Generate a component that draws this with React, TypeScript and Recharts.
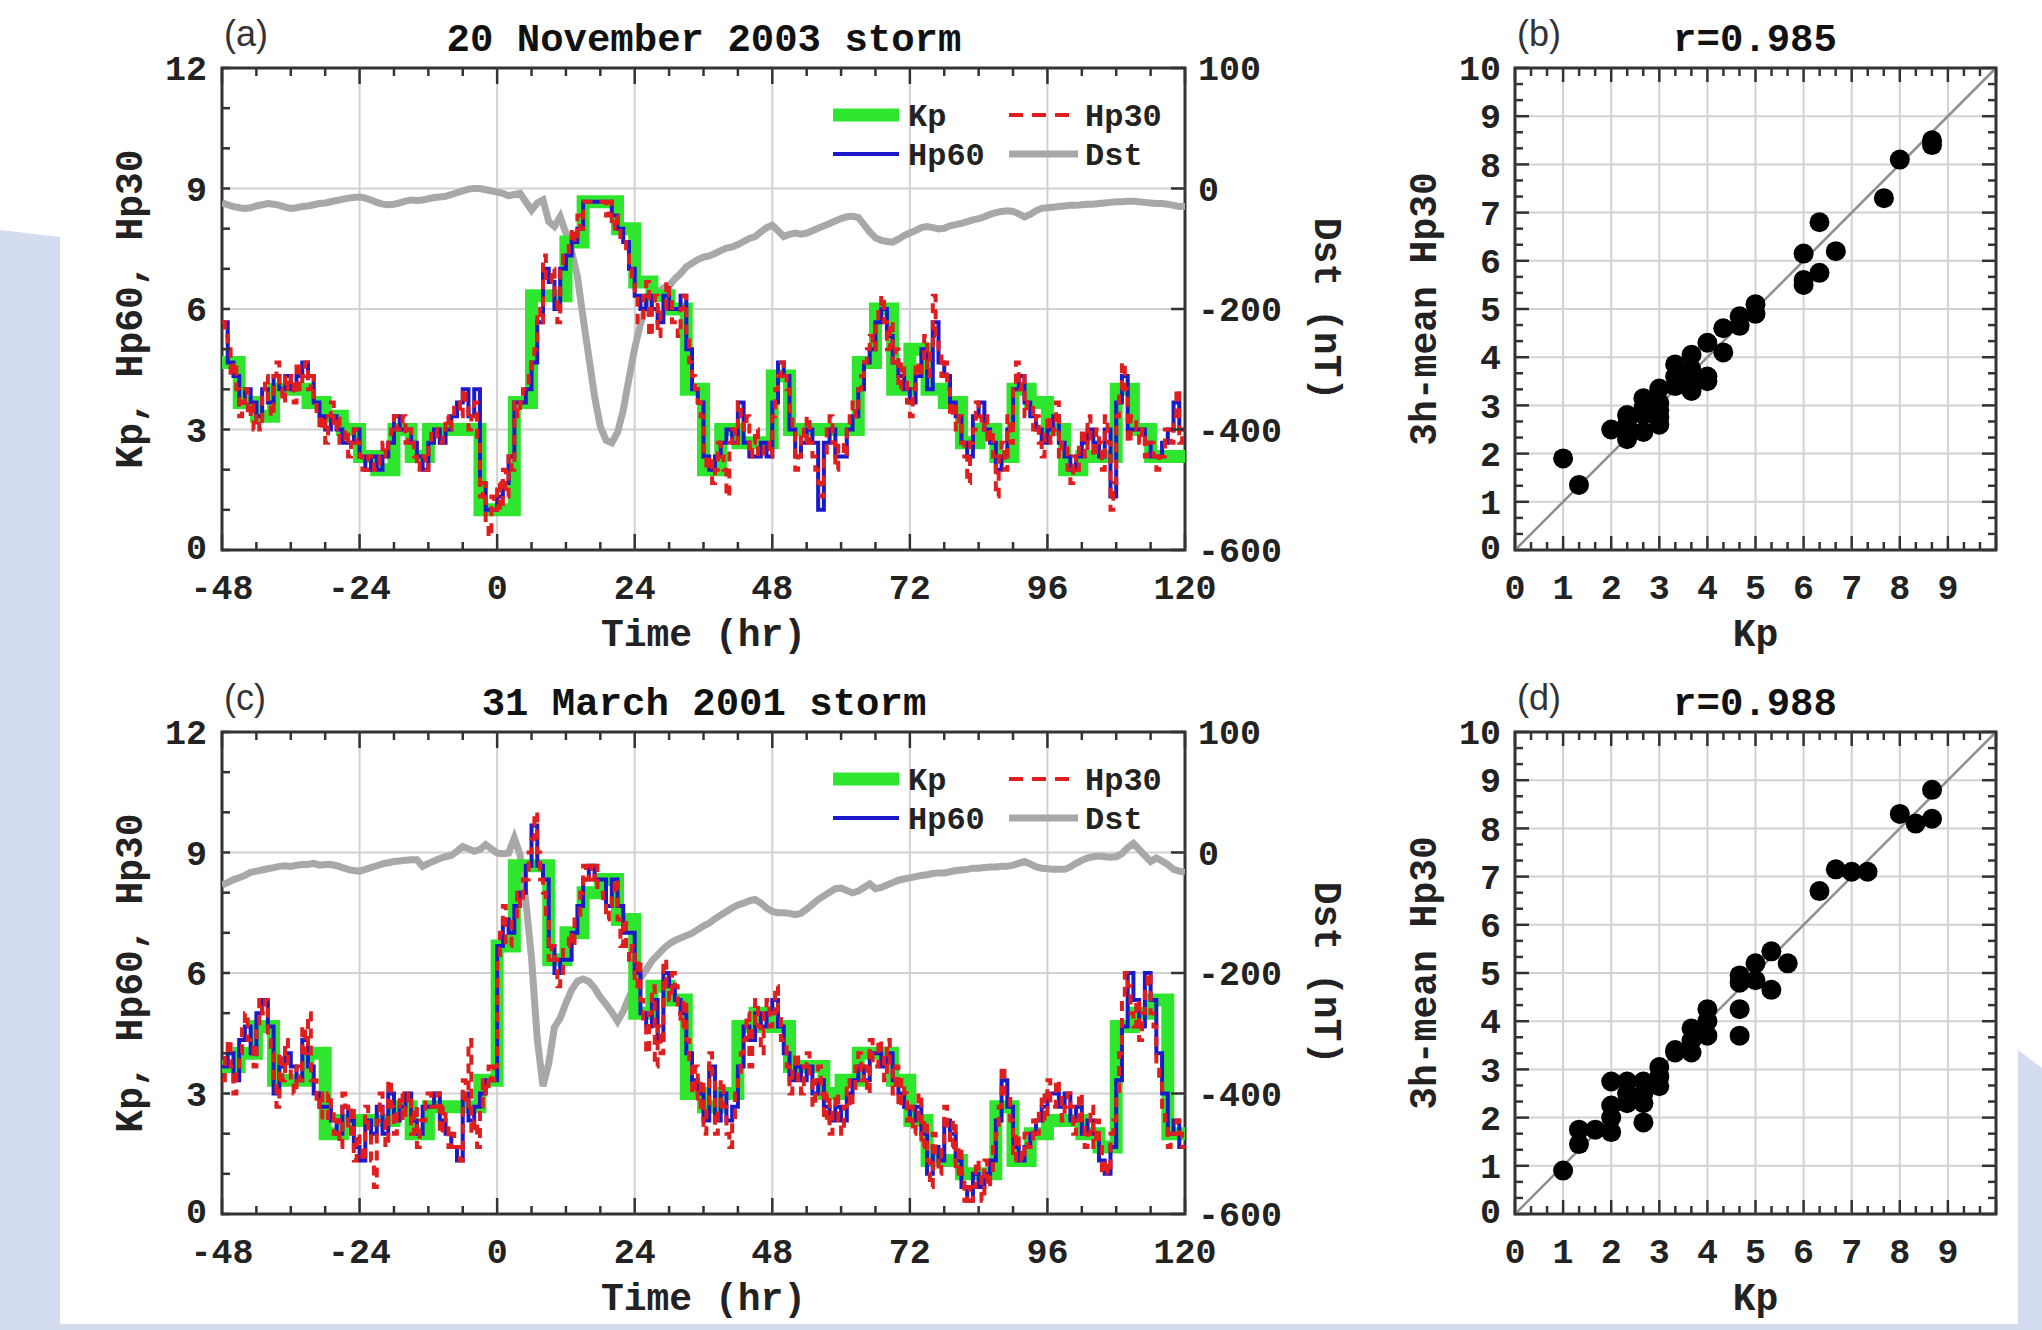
import React from "react";
import {
  ComposedChart,
  ScatterChart,
  Line,
  Scatter,
  XAxis,
  YAxis,
  ReferenceLine,
  ReferenceArea,
  Legend,
} from "recharts";

// ---- panel (a): 20 November 2003 storm, t = -48..120 h ----
const KP_A = [
  4.67, 3.67, 3.33, 4, 4, 3.67, 3.33, 3, 2.33, 2, 3, 2.33, 3, 3, 3, 1, 1, 3.67, 6.33, 6.33, 7.67, 8.67, 8.67, 8,
  6.67, 6.33, 6, 4, 2, 3, 2.67, 2.67, 4.33, 3, 3, 3, 3, 4.67, 6, 4, 5, 4, 3.67, 2.67, 3, 2.33, 4, 3.67, 3, 2,
  2.33, 2.33, 4, 3, 2.33, 2.33,
];
const HP60_A = [
  5.67, 4.67, 4.33, 3.67, 4, 3.67, 3.33, 4, 3.67, 4.33, 4, 4.33, 4, 4.33, 4.67, 4.33, 3.67, 3.33, 3, 3.33, 3,
  2.67, 2.67, 3, 2.33, 2, 2.33, 2, 2.33, 2.67, 3.33, 3, 3, 2.67, 2.33, 2, 2.67, 3, 2.67, 3, 3.33, 3.67, 4, 3.33,
  4, 1.67, 1, 1, 1.33, 1.67, 2.33, 3.67, 3.67, 4, 4.67, 5.67, 7, 6.67, 6, 7, 7.33, 7.67, 8, 8.67, 8.67, 8.67,
  8.67, 8.67, 8.33, 8, 7.67, 7, 6.33, 6, 6.33, 6, 5.67, 6.33, 6, 6, 6.33, 5, 4, 3.67, 2.33, 2, 2.33, 2.67, 3,
  2.67, 3.67, 2.67, 2.33, 2.33, 2.67, 2.33, 3.67, 4.67, 4.33, 3, 2.33, 2.67, 3, 2.67, 1, 2.67, 3, 2.33, 2.33, 3,
  3.33, 4, 4.67, 5, 5.67, 6, 5.33, 4.67, 4.33, 4, 3.67, 4.33, 5, 4, 5.67, 4.67, 4.33, 3.67, 3.33, 2.67, 2.33,
  3.33, 3.67, 3, 2.67, 2, 2.33, 3, 4, 4.33, 3.67, 3.33, 3, 2.67, 3, 3.33, 2.67, 2.33, 2, 2.33, 2.67, 3, 2.67,
  2.33, 3, 1.33, 3.67, 4.33, 3, 3, 3, 2.67, 2.33, 2.33, 2.67, 3, 3.67, 3,
];
const HP30_A = [
  5.67, 5.33, 5, 4.33, 4.67, 4, 3.33, 3.67, 4, 3.33, 3.67, 3,
  3.33, 3, 4, 4.33, 3.67, 3.33, 4.33, 4.67, 4, 3.67, 4.33, 4,
  4.33, 3.67, 4.67, 4, 4.33, 4.67, 4, 4.33, 3.67, 3.33, 3, 3.33,
  2.67, 3.33, 3.67, 3, 3.33, 2.67, 2.67, 3, 2.33, 2.67, 3, 2.67,
  2.33, 2, 2, 2.33, 2.33, 2, 2, 2.33, 2.67, 2.33, 2.67, 3,
  3.33, 3, 3, 3.33, 2.67, 3, 2.67, 2.33, 2, 2.33, 2.33, 2,
  2.67, 3, 3, 2.67, 2.67, 3, 3.33, 3, 3.33, 3.67, 3.67, 3.33,
  4, 3.67, 3, 3.33, 3.67, 2.67, 1.33, 1.67, 0.67, 0.33, 1.33, 1,
  1.67, 1, 2, 1.33, 2.33, 2, 3.67, 3.33, 3.67, 4, 4, 4.33,
  4.67, 5, 6, 5.67, 7.33, 6.67, 6.67, 7, 6.33, 5.67, 7, 7.33,
  7.33, 7.67, 8, 7.67, 8.33, 8, 8.67, 8.67, 8.67, 8.67, 8.67, 8.67,
  8.67, 8.67, 8.33, 8.67, 8, 8.33, 8, 7.67, 7.67, 7.33, 7, 6.67,
  6.33, 5.67, 5.67, 6.33, 6.67, 5.33, 6, 6.33, 5.33, 6, 6, 6.67,
  6.33, 5.67, 5.67, 5.33, 6, 6.33, 5.33, 4.67, 4.33, 4, 3.67, 3.33,
  2.33, 2, 2.33, 1.67, 2, 2.67, 2.33, 2, 1.33, 2.67, 3, 2.67,
  3.67, 3.33, 3, 3.33, 2.33, 2.67, 3, 2.33, 2.33, 2.67, 2.67, 2.33,
  3.33, 4, 4.33, 4.67, 4.33, 4, 3.33, 3, 2, 2.33, 3, 2.67,
  3.33, 2.67, 2.33, 2, 1.67, 1.33, 2.33, 3, 3.33, 2.67, 2, 2.67,
  2.67, 2.33, 3, 3.33, 3.67, 3.33, 4, 4.33, 4.67, 5, 5.33, 5,
  5.67, 6, 6.33, 5.67, 5, 5.67, 4.67, 5, 4, 4.67, 4.33, 3.67,
  3.33, 4, 4.67, 4.33, 4.67, 5.33, 4.33, 5, 6.33, 5.33, 5, 4.33,
  4.67, 4, 3.33, 3.67, 3, 3.33, 2.67, 2.33, 1.67, 2.67, 3, 3.67,
  3.33, 3, 3.33, 2.67, 3, 2.33, 1.33, 2.33, 2.67, 2, 3.33, 2.67,
  4, 4.67, 4, 4.33, 3.33, 3.67, 3.67, 3, 3.33, 2.67, 2.33, 3,
  3.33, 2.67, 3, 3.67, 2.33, 2.67, 2.67, 2, 1.67, 2.33, 2, 2.67,
  3, 2.33, 3.33, 2.67, 2.33, 3, 2.67, 2, 3.33, 2.67, 1, 1.67,
  3.33, 4, 4.67, 4, 2.67, 3.33, 3.33, 3, 2.67, 3, 2.33, 2.67,
  2.67, 2.33, 2, 2.33, 2.33, 3, 3, 2.67, 3.33, 4, 2.67, 3,
];
const DST_A = [
  -24, -27, -30, -32, -33, -32, -29, -27, -25, -26, -28, -31,
  -33, -32, -30, -29, -27, -25, -24, -22, -20, -18, -16, -15,
  -14, -16, -19, -23, -26, -27, -26, -24, -21, -19, -20, -19,
  -17, -15, -14, -13, -10, -7, -4, -1, 0, 0, -2, -4,
  -6, -8, -12, -10, -8, -22, -36, -24, -19, -55, -63, -47,
  -74, -105, -146, -215, -280, -345, -395, -418, -422, -405, -368, -315,
  -265, -225, -195, -182, -172, -165, -162, -150, -141, -130, -124, -118,
  -114, -112, -108, -103, -99, -97, -93, -88, -83, -80, -72, -65,
  -61, -70, -80, -76, -74, -76, -74, -70, -66, -62, -58, -54,
  -50, -47, -46, -48, -60, -72, -82, -86, -88, -89, -84, -78,
  -74, -70, -65, -63, -65, -67, -66, -62, -60, -58, -55, -52,
  -50, -47, -43, -40, -38, -37, -38, -42, -47, -43, -37, -33,
  -32, -31, -30, -29, -28, -28, -27, -26, -26, -25, -24, -23,
  -22, -22, -21, -21, -22, -23, -24, -25, -25, -26, -28, -30,
  -30,
];

// ---- panel (c): 31 March 2001 storm ----
const KP_C = [
  3.67, 4, 4.67, 3.33, 3.33, 4, 2, 2.33, 2.33, 2.33, 2.67, 2, 2.67, 2.67, 2.67, 3.33, 6.67, 8.67, 8.67, 6.33, 7,
  8, 8.33, 7.33, 5, 5.67, 5.33, 3, 2.67, 3, 4.67, 5, 4.67, 3.67, 3.67, 3, 3.33, 4, 4, 3.33, 2.33, 1.33, 1.33, 1,
  1, 2.67, 1.33, 2, 2.33, 2.33, 2, 1.67, 4.67, 5, 5.33, 2,
];
const HP60_C = [
  3.67, 4, 3.33, 4.33, 4.67, 4, 5, 5.33, 4.67, 3, 3.67, 4, 3.67, 3.33, 4.33, 3.67, 3, 2.67, 2.67, 2.33, 2, 2.67,
  2.33, 1.67, 1.33, 2.33, 2, 2.67, 2, 3, 2.33, 2.67, 3, 2.33, 2, 2.67, 2.67, 3, 2.33, 2, 1.67, 1.33, 3, 2.33,
  2.67, 3, 3.33, 3.33, 6.67, 7.33, 7, 7.67, 8, 8.67, 9.67, 8.67, 8.33, 6.67, 6, 6.33, 6.33, 7, 7.67, 8.33, 8.67,
  8.33, 8.33, 7.67, 8.33, 7.67, 7, 7, 6, 5, 4.67, 5.33, 4.33, 6, 5.67, 5.33, 5, 4, 3.33, 3, 2.33, 3.67, 2.33, 3,
  2.33, 2.67, 3.67, 4.67, 4.33, 5, 4.67, 5, 5.33, 4.67, 4, 3.33, 3.67, 3.33, 3.67, 3, 3.33, 2.67, 2.33, 2.67,
  2.33, 3, 3.33, 3.67, 3.33, 4, 4, 3.67, 4, 3.33, 3, 2.67, 2.33, 2.67, 2, 1, 1.67, 1.33, 2.33, 2, 1.33, 0.67,
  0.33, 1, 0.67, 1, 1.33, 2.33, 3.33, 2.67, 1.67, 1.33, 1.67, 2, 2.33, 2.67, 3, 3, 2.67, 3, 2.33, 2.67, 2, 2.33,
  2, 1.33, 1, 1.67, 3.33, 4.67, 6, 5.33, 4.67, 6, 5.33, 4, 3, 2, 2.33, 1.67,
];
const HP30_C = [
  3.33, 4, 4.33, 3.67, 3, 3.67, 4, 4.67, 5, 4.33, 4.33, 3.67,
  4.67, 5.33, 5, 5.33, 4.33, 4, 3.33, 2.67, 4, 3.33, 4.33, 3.67,
  3.33, 3, 3.67, 3.33, 4.67, 4, 5, 3.33, 3.33, 2.67, 3, 2.33,
  2.33, 3, 2.67, 2, 2.33, 1.67, 3, 2.67, 2, 2.67, 1.33, 2,
  1.67, 1.33, 2.67, 2, 1.33, 0.67, 2.33, 3, 2.33, 1.67, 3.33, 2.67,
  2, 2.67, 3, 2.33, 2.67, 3, 2, 2.67, 1.67, 2.33, 2.33, 3,
  3, 2.67, 2.67, 3, 2, 2.67, 2.33, 1.67, 2, 1.67, 1.67, 1.33,
  3.33, 2.67, 4.33, 2, 2.33, 1.67, 2.67, 3.33, 3, 3.67, 3.33, 3.67,
  6.33, 7, 7.67, 6.67, 6.67, 7.33, 7.33, 8, 7.67, 8.33, 8.33, 9,
  9.33, 10, 9, 8.33, 8, 7.33, 6.33, 6.67, 6.33, 5.67, 6, 6.67,
  6.67, 7, 6.67, 7.33, 7.33, 8, 8.67, 8.33, 8.67, 8.33, 8.67, 8,
  8, 7.67, 7.33, 7.67, 8, 8.33, 7.33, 6.67, 7.33, 6.67, 6.33, 6.67,
  5.67, 6.33, 5.33, 4.67, 4, 5, 5.67, 3.67, 4.67, 4, 6.33, 5.67,
  5.33, 6, 5.67, 5, 4.67, 5.33, 4.33, 3.67, 3, 3.67, 2.67, 3.33,
  2, 2.67, 4, 3.33, 2, 2.67, 3.33, 2.67, 2, 1.67, 2.33, 3,
  3.33, 4, 4.33, 5, 3.67, 4.67, 5.33, 4.67, 4, 5, 5.33, 4.67,
  5, 5.67, 5, 4.33, 4.33, 3.67, 3, 3.67, 4, 3.33, 3, 3.67,
  4, 3.33, 2.67, 3.33, 3.67, 3, 2.33, 3, 2, 2.67, 3, 2.33,
  2, 2.67, 3.33, 2.67, 3, 3.67, 4, 3.33, 3.67, 3, 4.33, 3.67,
  3.67, 4.33, 4, 3.33, 4.33, 3.67, 3, 3.67, 2.67, 3.33, 3, 2.33,
  2.67, 2, 2.33, 3, 1.67, 2.33, 1.33, 0.67, 2, 1.33, 1, 1.67,
  2.67, 2, 1.67, 2.33, 1, 1.67, 1, 0.33, 0.67, 0.33, 0.67, 1.33,
  1, 0.33, 1.33, 0.67, 1, 1.67, 2, 2.67, 3.67, 3, 3, 2.33,
  1.33, 2, 1.67, 1.33, 2, 1.67, 1.67, 2.33, 2, 2.67, 3, 2.33,
  3.33, 2.67, 2.67, 3.33, 3, 2.33, 2.67, 3, 2.67, 2, 2.33, 3,
  2.33, 1.67, 2, 2.67, 1.67, 2.33, 1.67, 1, 1.33, 1, 2, 2.33,
  3, 4, 5.33, 6, 5.67, 5, 4.67, 5.33, 4.33, 5, 5.67, 6,
  5, 4.67, 3.67, 3.33, 2.67, 2.33, 1.67, 2, 2, 2.33, 2, 1.67,
];
const DST_C = [
  -54, -50, -45, -42, -38, -33, -31, -29, -27, -25, -23, -22,
  -23, -21, -20, -20, -18, -21, -20, -20, -22, -25, -28, -30,
  -31, -28, -25, -22, -19, -17, -15, -14, -13, -12, -12, -23,
  -18, -14, -10, -7, -5, 2, 10, 6, 2, 5, 13, 6,
  -1, -2, -1, 24, -4, -80, -175, -310, -388, -350, -290, -275,
  -250, -228, -214, -210, -214, -225, -240, -252, -265, -280, -264, -240,
  -222, -208, -195, -180, -170, -160, -152, -146, -142, -138, -134, -128,
  -122, -117, -110, -104, -98, -92, -87, -84, -80, -78, -84, -92,
  -98, -100, -100, -101, -103, -101, -94, -86, -78, -72, -66, -60,
  -59, -63, -67, -64, -58, -52, -60, -58, -54, -50, -46, -44,
  -42, -40, -38, -37, -35, -34, -34, -32, -30, -29, -28, -26,
  -26, -25, -24, -24, -23, -23, -21, -18, -15, -19, -24, -26,
  -27, -28, -28, -28, -24, -18, -13, -9, -7, -6, -7, -8,
  -7, -2, 8, 15, 5, -5, -15, -9, -14, -20, -28, -31,
  -33,
];

// ---- scatter (b) and (d): Kp vs 3h-mean Hp30 ----
const SC_KP_B = [
  1, 1.33, 2, 2.33, 2.33, 2.33, 2.67, 2.67, 2.67, 2.67, 3, 3, 3, 3, 3, 3.33, 3.33, 3.33, 3.67, 3.67, 3.67, 3.67,
  4, 4, 4, 4.33, 4.33, 4.67, 4.67, 5, 5, 6, 6, 6, 6.33, 6.33, 6.67, 7.67, 8, 8.67, 8.67,
];
const SC_HP_B = [
  1.9, 1.35, 2.5, 2.8, 2.3, 2.6, 3.15, 2.45, 2.8, 2.95, 3.35, 2.6, 2.9, 3.05, 2.75, 3.85, 3.4, 3.6, 4.05, 3.3,
  3.75, 3.6, 4.3, 3.6, 3.5, 4.6, 4.1, 4.85, 4.65, 5.1, 4.9, 6.15, 5.6, 5.5, 6.8, 5.75, 6.2, 7.3, 8.1, 8.5, 8.4,
];
const SC_KP_D = [
  1, 1.33, 1.33, 1.67, 2, 2, 2, 2, 2.33, 2.33, 2.33, 2.67, 2.67, 2.67, 2.67, 3, 3, 3, 3.33, 3.33, 3.67, 3.67,
  3.67, 4, 4, 4, 4.67, 4.67, 4.67, 4.67, 5, 5, 5.33, 5.33, 5.67, 6.33, 6.67, 7, 7.33, 8, 8.33, 8.67, 8.67,
];
const SC_HP_D = [
  0.9, 1.75, 1.45, 1.75, 2.75, 2.25, 2, 1.7, 2.75, 2.5, 2.3, 2.75, 2.5, 2.3, 1.9, 3.05, 2.85, 2.65, 3.4, 3.35,
  3.85, 3.6, 3.35, 4.25, 4, 3.7, 4.95, 4.8, 4.25, 3.7, 5.2, 4.85, 5.45, 4.65, 5.2, 6.7, 7.15, 7.1, 7.1, 8.3,
  8.1, 8.8, 8.2,
];

const TIME_TICKS = [-48, -42, -36, -30, -24, -18, -12, -6, 0, 6, 12, 18, 24, 30, 36, 42, 48, 54, 60, 66, 72, 78, 84, 90, 96, 102, 108, 114, 120];
const TIME_GRID = [-24, 0, 24, 48, 72, 96];
const KP_TICKS = [0, 1, 2, 3, 4, 5, 6, 7, 8, 9, 10, 11, 12];
const DST_TICKS = [-600, -400, -200, 0, 200];
const THIRDS = Array.from({ length: 31 }, (_, i) => i / 3);
const UNITS = [1, 2, 3, 4, 5, 6, 7, 8, 9];

const FONT = "'Liberation Mono', 'DejaVu Sans Mono', monospace";
const INK = "#222";
const FRAME = "#333";
const GRID = "#d2d2d2";
const GREEN = "#2fe62f";
const BLUE = "#1a1acc";
const RED = "#e01e1e";
const GRAY = "#a8a8a8";

// time-series chart geometry (chart-local px)
const TS_W = 1500;
const TS_H = 720;
const P_TOP = 68;
const P_BOTTOM = 550;
const P_LEFT = 222;
const P_RIGHT = 1185;

// scatter chart geometry
const SC_W = 716;
const SC_LEFT = 215;
const SC_RIGHT = 696;

const txt = { fontFamily: FONT, fontWeight: 700, fontSize: 35, fill: INK };
const axisTitle = { fontFamily: FONT, fontWeight: 700, fontSize: 38, fill: INK };

function TimeTick(props: any) {
  const { x, payload } = props;
  const v = payload.value as number;
  const major = v % 24 === 0;
  const len = major ? 16 : 8;
  return (
    <g>
      <line x1={x} x2={x} y1={P_BOTTOM} y2={P_BOTTOM - len} stroke={FRAME} strokeWidth={2.5} />
      <line x1={x} x2={x} y1={P_TOP} y2={P_TOP + len} stroke={FRAME} strokeWidth={2.5} />
      {major && (
        <text x={x} y={P_BOTTOM + 49} textAnchor="middle" {...txt}>
          {v}
        </text>
      )}
    </g>
  );
}

function KpTick(props: any) {
  const { y, payload } = props;
  const v = payload.value as number;
  return (
    <g>
      <line x1={P_LEFT} x2={P_LEFT + 8} y1={y} y2={y} stroke={FRAME} strokeWidth={2.5} />
      {v % 3 === 0 && (
        <text x={P_LEFT - 15} y={y} dy={v === 0 ? "0.25em" : "0.35em"} textAnchor="end" {...txt}>
          {v}
        </text>
      )}
    </g>
  );
}

function DstTick(props: any) {
  const { y, payload } = props;
  const v = payload.value as number;
  return (
    <g>
      <line x1={P_RIGHT} x2={P_RIGHT - 14} y1={y} y2={y} stroke={FRAME} strokeWidth={2.5} />
      <text x={P_RIGHT + 13} y={y} dy="0.35em" textAnchor="start" {...txt}>
        {v === 200 ? 100 : v}
      </text>
    </g>
  );
}

const isInt = (v: number) => Math.abs(v - Math.round(v)) < 1e-6;

function ScXTick(props: any) {
  const { x, payload } = props;
  const v = payload.value as number;
  const major = isInt(v);
  const len = major ? 14 : 8;
  return (
    <g>
      <line x1={x} x2={x} y1={P_BOTTOM} y2={P_BOTTOM - len} stroke={FRAME} strokeWidth={2.5} />
      <line x1={x} x2={x} y1={P_TOP} y2={P_TOP + len} stroke={FRAME} strokeWidth={2.5} />
      {major && Math.round(v) < 10 && (
        <text x={x} y={P_BOTTOM + 49} textAnchor="middle" {...txt}>
          {Math.round(v)}
        </text>
      )}
    </g>
  );
}

function ScYTick(props: any) {
  const { y, payload } = props;
  const v = payload.value as number;
  const major = isInt(v);
  const len = major ? 14 : 8;
  return (
    <g>
      <line x1={SC_LEFT} x2={SC_LEFT + len} y1={y} y2={y} stroke={FRAME} strokeWidth={2.5} />
      <line x1={SC_RIGHT} x2={SC_RIGHT - len} y1={y} y2={y} stroke={FRAME} strokeWidth={2.5} />
      {major && (
        <text x={SC_LEFT - 14} y={y} dy={Math.round(v) === 0 ? "0.25em" : "0.35em"} textAnchor="end" {...txt}>
          {Math.round(v)}
        </text>
      )}
    </g>
  );
}

function StormLegend() {
  const t = { fontFamily: FONT, fontWeight: 700, fontSize: 32, fill: INK };
  return (
    <svg width={400} height={84}>
      <line x1={13} x2={79} y1={23} y2={23} stroke={GREEN} strokeWidth={13} />
      <text x={88} y={23} dy="0.35em" {...t}>Kp</text>
      <line x1={189} x2={258} y1={23} y2={23} stroke={RED} strokeWidth={4} strokeDasharray="14 9" />
      <text x={265} y={23} dy="0.35em" {...t}>Hp30</text>
      <line x1={13} x2={79} y1={62} y2={62} stroke={BLUE} strokeWidth={4} />
      <text x={88} y={62} dy="0.35em" {...t}>Hp60</text>
      <line x1={189} x2={258} y1={62} y2={62} stroke={GRAY} strokeWidth={7} />
      <text x={265} y={62} dy="0.35em" {...t}>Dst</text>
    </svg>
  );
}

type StormProps = { top: number; kp: number[]; hp60: number[]; hp30: number[]; dst: number[] };

function StormPanel({ top, kp, hp60, hp30, dst }: StormProps) {
  const kpData = [...kp.map((v, i) => ({ t: -48 + 3 * i, v })), { t: 120, v: kp[kp.length - 1] }];
  const h60Data = [...hp60.map((v, i) => ({ t: -48 + i, v })), { t: 120, v: hp60[hp60.length - 1] }];
  const h30Data = [...hp30.map((v, i) => ({ t: -48 + i / 2, v })), { t: 120, v: hp30[hp30.length - 1] }];
  const dstData = dst.map((v, i) => ({ t: -48 + i, v }));
  return (
    <div style={{ position: "absolute", left: 0, top, width: TS_W, height: TS_H }}>
      <ComposedChart width={TS_W} height={TS_H} margin={{ top: 68, right: 29, bottom: 4, left: 36 }}>
        <XAxis
          dataKey="t"
          type="number"
          domain={[-48, 120]}
          ticks={TIME_TICKS}
          interval={0}
          tick={TimeTick}
          tickLine={false}
          axisLine={false}
          height={166}
          allowDataOverflow
          label={{ value: "Time (hr)", position: "center", ...axisTitle }}
        />
        <YAxis
          yAxisId="kp"
          type="number"
          domain={[0, 12]}
          ticks={KP_TICKS}
          interval={0}
          tick={KpTick}
          tickLine={false}
          axisLine={false}
          width={186}
          allowDataOverflow
          label={{ value: "Kp, Hp60, Hp30", angle: -90, position: "center", ...axisTitle }}
        />
        <YAxis
          yAxisId="dst"
          orientation="right"
          type="number"
          domain={[-600, 200]}
          ticks={DST_TICKS}
          interval={0}
          tick={DstTick}
          tickLine={false}
          axisLine={false}
          width={286}
          allowDataOverflow
          label={{ value: "Dst (nT)", angle: 90, position: "center", ...axisTitle }}
        />
        {TIME_GRID.map((t) => (
          <ReferenceLine key={"v" + t} x={t} yAxisId="kp" stroke={GRID} strokeWidth={2} />
        ))}
        {[3, 6, 9].map((v) => (
          <ReferenceLine key={"h" + v} y={v} yAxisId="kp" stroke={GRID} strokeWidth={2} />
        ))}
        <Line yAxisId="dst" data={dstData} dataKey="v" type="linear" stroke={GRAY} strokeWidth={7} dot={false} isAnimationActive={false} />
        <Line yAxisId="kp" data={kpData} dataKey="v" type="stepAfter" stroke={GREEN} strokeWidth={13} dot={false} isAnimationActive={false} />
        <Line yAxisId="kp" data={h60Data} dataKey="v" type="stepAfter" stroke={BLUE} strokeWidth={4} dot={false} isAnimationActive={false} />
        <Line
          yAxisId="kp"
          data={h30Data}
          dataKey="v"
          type="stepAfter"
          stroke={RED}
          strokeWidth={4}
          strokeDasharray="10 7"
          dot={false}
          isAnimationActive={false}
        />
        <ReferenceArea yAxisId="kp" x1={-48} x2={120} y1={0} y2={12} fill="none" stroke={FRAME} strokeWidth={3} ifOverflow="visible" />
        <Legend
          layout="vertical"
          align="center"
          verticalAlign="middle"
          wrapperStyle={{ left: 820, top: 92, width: 400, height: 84 }}
          content={() => <StormLegend />}
        />
      </ComposedChart>
    </div>
  );
}

function CorrPanel({ top, kp, hp }: { top: number; kp: number[]; hp: number[] }) {
  const pts = kp.map((x, i) => ({ x, y: hp[i] }));
  return (
    <div style={{ position: "absolute", left: 1300, top, width: SC_W, height: TS_H }}>
      <ScatterChart width={SC_W} height={TS_H} margin={{ top: 68, right: 20, bottom: 4, left: 31 }}>
        <XAxis
          dataKey="x"
          type="number"
          domain={[0, 10]}
          ticks={THIRDS}
          interval={0}
          tick={ScXTick}
          tickLine={false}
          axisLine={false}
          height={166}
          label={{ value: "Kp", position: "center", ...axisTitle }}
        />
        <YAxis
          dataKey="y"
          type="number"
          domain={[0, 10]}
          ticks={THIRDS}
          interval={0}
          tick={ScYTick}
          tickLine={false}
          axisLine={false}
          width={184}
          label={{ value: "3h-mean Hp30", angle: -90, position: "center", ...axisTitle }}
        />
        {UNITS.map((u) => (
          <ReferenceLine key={"v" + u} x={u} stroke={GRID} strokeWidth={2} />
        ))}
        {UNITS.map((u) => (
          <ReferenceLine key={"h" + u} y={u} stroke={GRID} strokeWidth={2} />
        ))}
        <ReferenceLine
          segment={[
            { x: 0, y: 0 },
            { x: 10, y: 10 },
          ]}
          stroke="#8e8e8e"
          strokeWidth={2.5}
        />
        <Scatter
          data={pts}
          fill="#000"
          isAnimationActive={false}
          shape={(p: any) => <circle cx={p.cx} cy={p.cy} r={10} fill="#000" />}
        />
        <ReferenceArea x1={0} x2={10} y1={0} y2={10} fill="none" stroke={FRAME} strokeWidth={3} ifOverflow="visible" />
      </ScatterChart>
    </div>
  );
}

export default function App() {
  const head = { fontFamily: FONT, fontWeight: 700, fontSize: 39, fill: "#111" };
  const tag = { fontFamily: "'Liberation Sans', Arial, sans-serif", fontSize: 36, fill: "#333" };
  return (
    <div
      style={{
        position: "absolute",
        left: 0,
        top: 0,
        width: 2042,
        height: 1330,
        background: "#fff",
        overflow: "hidden",
      }}
    >
      <svg width={2042} height={1330} style={{ position: "absolute", left: 0, top: 0 }}>
        <polygon points="0,230 60,237 60,1324 2018,1324 2018,1050 2042,1068 2042,1330 0,1330" fill="#d3ddef" />
        <text x={224} y={46} {...tag}>(a)</text>
        <text x={704} y={51} textAnchor="middle" {...head}>20 November 2003 storm</text>
        <text x={1517} y={46} {...tag}>(b)</text>
        <text x={1755} y={51} textAnchor="middle" {...head}>r=0.985</text>
        <text x={224} y={710} {...tag}>(c)</text>
        <text x={704} y={715} textAnchor="middle" {...head}>31 March 2001 storm</text>
        <text x={1517} y={710} {...tag}>(d)</text>
        <text x={1755} y={715} textAnchor="middle" {...head}>r=0.988</text>
      </svg>
      <StormPanel top={0} kp={KP_A} hp60={HP60_A} hp30={HP30_A} dst={DST_A} />
      <StormPanel top={664} kp={KP_C} hp60={HP60_C} hp30={HP30_C} dst={DST_C} />
      <CorrPanel top={0} kp={SC_KP_B} hp={SC_HP_B} />
      <CorrPanel top={664} kp={SC_KP_D} hp={SC_HP_D} />
    </div>
  );
}
